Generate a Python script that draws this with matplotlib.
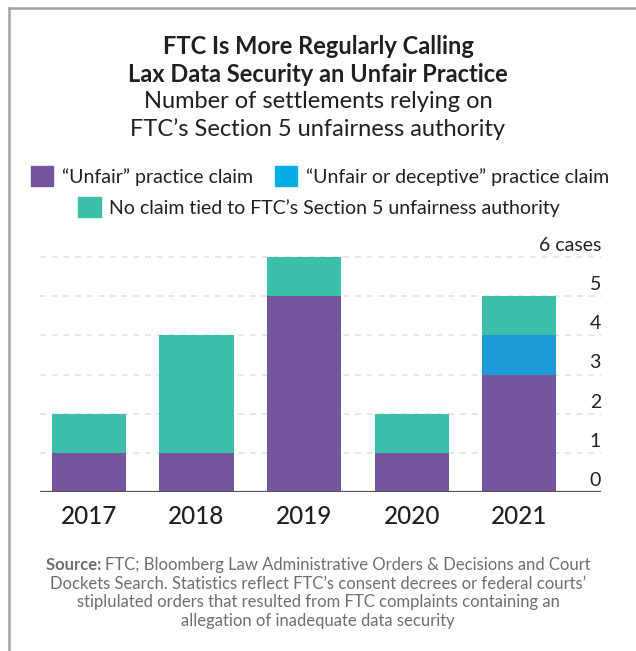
import numpy as np
import matplotlib
matplotlib.use("Agg")
import matplotlib.pyplot as plt
from matplotlib.patches import Patch
from matplotlib.lines import Line2D

plt.rcParams['font.family'] = ['Lato', 'DejaVu Sans']

# settlements per year, split by the kind of claim
years = ["2017", "2018", "2019", "2020", "2021"]
unfair = [1, 1, 5, 1, 3]
unfair_or_deceptive = [0, 0, 0, 0, 1]
no_claim = [1, 3, 1, 1, 1]
y_ticks = [0, 1, 2, 3, 4, 5, 6]
y_tick_labels = ["0", "1", "2", "3", "4", "5", "6 cases"]

labels = ["\u201cUnfair\u201d practice claim",
          "\u201cUnfair or deceptive\u201d practice claim",
          "No claim tied to FTC\u2019s Section 5 unfairness authority"]

purple = "#76559f"
blue = "#1c9bd6"
blue_key = "#00aee6"
teal = "#3bbfa9"
dark = "#231f20"
grey = "#6d6e70"

fig = plt.figure(figsize=(6.36, 6.51), dpi=100)
ax = fig.add_axes([40 / 636, 1 - 492 / 651, 561 / 636, 235 / 651])

x = np.arange(len(years))
w = 0.69
u = np.array(unfair)
d = np.array(unfair_or_deceptive)
n = np.array(no_claim)
ax.bar(x, u, w, color=purple, zorder=2)
ax.bar(x, d, w, bottom=u, color=blue, zorder=2)
ax.bar(x, n, w, bottom=u + d, color=teal, zorder=2)

ax.set_xlim(-0.455, 4.76)
ax.set_ylim(0, 6)

# dashed guides with the value labels sitting on top of them at the right
for t, lab in zip(y_ticks, y_tick_labels):
    if t > 0:
        ax.axhline(t, color="#e2e2e2", lw=1.2, ls=(0, (3.5, 3.5)), zorder=1, clip_on=False)
    ax.text(1.0, t + 0.08, lab, transform=ax.get_yaxis_transform(),
            ha="right", va="bottom", fontsize=14, color=dark)
ax.axhline(0, color="#555555", lw=1.6, zorder=3)

ax.set_xticks(x)
ax.set_xticklabels(years, fontsize=17.5, color=dark, fontweight="medium")
ax.tick_params(axis="x", length=0, pad=9)
ax.set_yticks([])
for s in ax.spines.values():
    s.set_visible(False)

# heading
fig.text(0.5, 1 - 47 / 651, "FTC Is More Regularly Calling", ha="center", va="center",
         fontsize=17, fontweight="bold", color=dark)
fig.text(0.5, 1 - 75 / 651, "Lax Data Security an Unfair Practice", ha="center", va="center",
         fontsize=17, fontweight="bold", color=dark)
fig.text(0.5, 1 - 102 / 651, "Number of settlements relying on", ha="center", va="center",
         fontsize=17, color=dark)
fig.text(0.5, 1 - 129 / 651, "FTC\u2019s Section 5 unfairness authority", ha="center", va="center",
         fontsize=17, color=dark)

# key in two rows
h1 = [Patch(color=purple), Patch(color=blue_key)]
fig.legend(h1, labels[:2], loc="center", bbox_to_anchor=(0.503, 1 - 176 / 651),
           ncol=2, frameon=False, fontsize=14, handlelength=1.15, handleheight=1.15,
           handletextpad=0.45, columnspacing=1.1, labelcolor=dark)
fig.legend([Patch(color=teal)], labels[2:], loc="center", bbox_to_anchor=(0.502, 1 - 207 / 651),
           frameon=False, fontsize=14, handlelength=1.15, handleheight=1.15,
           handletextpad=0.45, labelcolor=dark)

# source note, first word in bold
fig.canvas.draw()
r = fig.canvas.get_renderer()
y0 = 1 - 565 / 651
b = fig.text(0, y0, "Source: ", fontsize=12, fontweight="bold", color=grey, va="center")
rest = fig.text(0, y0, "FTC; Bloomberg Law Administrative Orders & Decisions and Court",
                fontsize=12, color=grey, va="center")
wb = b.get_window_extent(r).width / fig.bbox.width
wr = rest.get_window_extent(r).width / fig.bbox.width
start = 0.5 - (wb + wr) / 2
b.set_x(start)
rest.set_x(start + wb)
notes = ["Dockets Search. Statistics reflect FTC\u2019s consent decrees or federal courts\u2019",
         "stiplulated orders that resulted from FTC complaints containing an",
         "allegation of inadequate data security"]
for i, line in enumerate(notes):
    fig.text(0.5, y0 - (i + 1) * 18.7 / 651, line, ha="center", va="center",
             fontsize=12, color=grey)

# panel border on the top and left
fig.add_artist(Line2D([8.5 / 636, 8.5 / 636], [0, 1 - 7.5 / 651], color="#a3a3a3", lw=1.8,
                      transform=fig.transFigure))
fig.add_artist(Line2D([8.5 / 636, 1], [1 - 7.5 / 651, 1 - 7.5 / 651], color="#a3a3a3", lw=1.8,
                      transform=fig.transFigure))

fig.savefig("out.png", dpi=100)
